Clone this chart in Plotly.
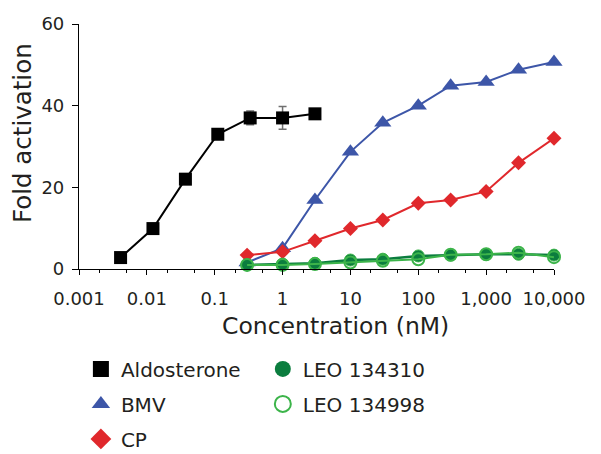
import plotly.graph_objects as go

# ---- data ----
aldo_x = [0.0041, 0.0123, 0.037, 0.111, 0.333, 1, 3]
aldo_y = [2.8, 9.9, 22, 33, 37, 37, 38]
aldo_err = [0, 0, 0, 0, 1.7, 2.8, 0]

conc = [0.3, 1, 3, 10, 30, 100, 300, 1000, 3000, 10000]
bmv_y = [1.6, 5.1, 16.9, 28.7, 35.8, 40, 44.9, 45.8, 48.8, 50.7]
cp_y = [3.4, 4.2, 6.9, 9.9, 12, 16.1, 16.9, 19, 26, 32]
leo310_y = [1.0, 1.2, 1.4, 2.2, 2.4, 3.2, 3.4, 3.6, 3.6, 3.4]
leo998_y = [1.0, 1.0, 1.2, 1.6, 2.0, 2.4, 3.5, 3.6, 4.0, 2.9]

xtick_vals = [0.001, 0.01, 0.1, 1, 10, 100, 1000, 10000]
xtick_text = ["0.001", "0.01", "0.1", "1", "10", "100", "1,000", "10,000"]
ytick_vals = [0, 20, 40, 60]

BLACK = "#000000"
BLUE = "#3d56a8"
RED = "#e0282c"
DKGREEN = "#0b7d3e"
LTGREEN = "#3cb44a"
TXT = "#231f20"
FONT = "DejaVu Sans, Verdana, sans-serif"

fig = go.Figure()

fig.add_trace(go.Scatter(x=aldo_x, y=aldo_y, mode="lines+markers", showlegend=False,
                         line=dict(color=BLACK, width=2),
                         marker=dict(symbol="square", size=13, color=BLACK),
                         error_y=dict(type="data", array=aldo_err, color="#707070", thickness=1.5, width=4),
                         cliponaxis=False))
fig.add_trace(go.Scatter(x=conc, y=bmv_y, mode="lines+markers", showlegend=False,
                         line=dict(color=BLUE, width=2),
                         marker=dict(symbol="triangle-up", size=15, color=BLUE),
                         cliponaxis=False))
fig.add_trace(go.Scatter(x=conc, y=cp_y, mode="lines+markers", showlegend=False,
                         line=dict(color=RED, width=2),
                         marker=dict(symbol="diamond", size=11.5, color=RED),
                         cliponaxis=False))
fig.add_trace(go.Scatter(x=conc, y=leo310_y, mode="lines+markers", showlegend=False,
                         line=dict(color=DKGREEN, width=2.5),
                         marker=dict(symbol="circle", size=12, color=DKGREEN,
                                     line=dict(color=LTGREEN, width=1)),
                         cliponaxis=False))
fig.add_trace(go.Scatter(x=conc, y=leo998_y, mode="lines+markers", showlegend=False,
                         line=dict(color=LTGREEN, width=2),
                         marker=dict(symbol="circle-open", size=12, color=LTGREEN,
                                     line=dict(color=LTGREEN, width=2)),
                         cliponaxis=False))

# legend entries (markers only)
leg1 = [("Aldosterone", "square", BLACK), ("BMV", "triangle-up", BLUE), ("CP", "diamond", RED)]
leg2 = [("LEO 134310", "circle", DKGREEN), ("LEO 134998", "circle-open", LTGREEN)]
for i, (name, sym, col) in enumerate(leg1):
    fig.add_trace(go.Scatter(x=[None], y=[None], mode="markers", name=name,
                             marker=dict(symbol=sym, size=16, color=col, line=dict(width=0)),
                             legend="legend", legendgroup="a%d" % i))
for i, (name, sym, col) in enumerate(leg2):
    fig.add_trace(go.Scatter(x=[None], y=[None], mode="markers", name=name,
                             marker=dict(symbol=sym, size=16, color=col,
                                         line=dict(width=2 if "open" in sym else 0, color=col)),
                             legend="legend2", legendgroup="b%d" % i))

legfont = dict(family=FONT, size=20, color=TXT)
fig.update_layout(
    width=601, height=454,
    margin=dict(l=71, r=55, t=16, b=193, autoexpand=False),
    plot_bgcolor="white", paper_bgcolor="white",
    font=dict(family=FONT, color=TXT),
    xaxis=dict(type="log", range=[-3, 4], tickvals=xtick_vals, ticktext=xtick_text,
               ticks="outside", ticklen=5, tickwidth=1, tickcolor="#000", automargin=False,
               showline=True, linecolor="#000", linewidth=1.2, showgrid=False, zeroline=False,
               minor=dict(ticks="outside", ticklen=3, tickcolor="#000", showgrid=False),
               tickfont=dict(family=FONT, size=18, color=TXT), ticklabelstandoff=8),
    yaxis=dict(range=[0, 60], tickvals=ytick_vals, ticks="outside", ticklen=6, tickcolor="#000",
               showline=True, linecolor="#000", linewidth=1.2, showgrid=False, zeroline=False,
               automargin=False, ticklabelstandoff=4,
               tickfont=dict(family=FONT, size=18, color=TXT)),
    legend=dict(x=0.004, y=0.248, xref="paper", yref="container", xanchor="left", yanchor="top",
                font=legfont, tracegroupgap=6, bgcolor="rgba(0,0,0,0)"),
    legend2=dict(x=0.387, y=0.248, xref="paper", yref="container", xanchor="left", yanchor="top",
                 font=legfont, tracegroupgap=6, bgcolor="rgba(0,0,0,0)"),
    annotations=[
        dict(text="Concentration (nM)", xref="paper", yref="paper", x=(335 - 79) / 475, y=-0.233,
             xanchor="center", yanchor="middle", showarrow=False,
             font=dict(family=FONT, size=23.5, color=TXT)),
        dict(text="Fold activation", xref="paper", yref="paper", x=-0.12, y=(269 - 133) / 245,
             xanchor="center", yanchor="middle", textangle=-90, showarrow=False,
             font=dict(family=FONT, size=24.5, color=TXT)),
    ],
)

fig.write_html("out.html")
